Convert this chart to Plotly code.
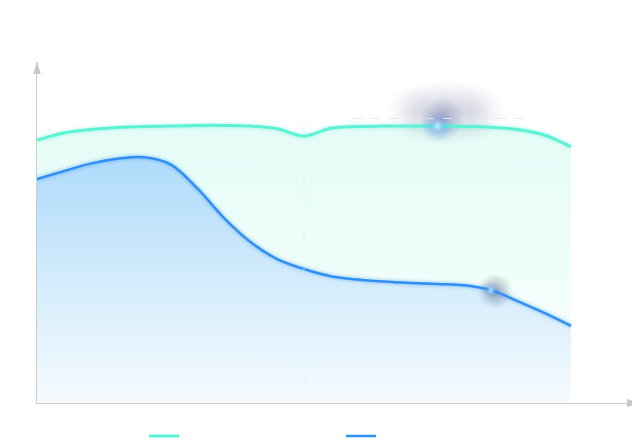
import plotly.graph_objects as go

# ---- data ----
x_vals = list(range(0, 101, 5))
green_y = [77.1, 79.2, 80.2, 80.8, 81.1, 81.2, 81.4, 81.4, 81.2, 80.4, 78.3,
           80.6, 81.1, 81.2, 81.2, 81.2, 81.1, 80.9, 80.2, 78.6, 75.1]
blue_y = [65.7, 68.0, 70.2, 71.6, 72.1, 70.0, 63.0, 54.3, 47.2, 42.2, 39.3,
          37.2, 36.2, 35.6, 35.2, 34.9, 34.5, 33.1, 29.9, 26.4, 22.6]

green_glow_idx = 15   # highlighted point on green series
blue_glow_idx = 17    # highlighted point on blue series
dip_idx = 10          # category with the vertical pointer line

GREEN = "#5cf2d6"
BLUE = "#2f8ff3"

OFF = 8  # page body margin offset
W, H = 640 - OFF, 443 - OFF
ML, MR, MT, MB = 37 - OFF, 1, 62 - OFF, 40
PW, PH = W - ML - MR, H - MT - MB
X_MAX = PW / 5.34
Y_MAX = 100


def px(xp):  # reference pixel -> paper x
    return (xp - OFF - ML) / PW


def py(yp):  # reference pixel -> paper y
    return (H - MB - (yp - OFF)) / PH


fig = go.Figure()

# green area
fig.add_trace(go.Scatter(
    x=x_vals, y=green_y, mode="lines", fill="tozeroy",
    line=dict(color="rgba(0,0,0,0)", width=0, shape="spline", smoothing=1),
    fillgradient=dict(type="vertical",
                      colorscale=[[0, "rgba(250,255,254,1)"], [1, "rgba(228,252,247,1)"]]),
    showlegend=False, hoverinfo="skip"))

# blue area
fig.add_trace(go.Scatter(
    x=x_vals, y=blue_y, mode="lines", fill="tozeroy",
    line=dict(color="rgba(0,0,0,0)", width=0, shape="spline", smoothing=1),
    fillgradient=dict(type="vertical",
                      colorscale=[[0, "rgba(246,251,255,1)"], [0.5, "rgba(211,236,252,1)"],
                                  [1, "rgba(174,218,250,1)"]]),
    showlegend=False, hoverinfo="skip"))

# dark glow blobs (behind lines)
gx, gy = x_vals[green_glow_idx], green_y[green_glow_idx]
bx, by = x_vals[blue_glow_idx], blue_y[blue_glow_idx]
blob_dx = [-6, -3, 0, 3, 6]
fig.add_trace(go.Scatter(
    x=[gx + 1.5 + d for d in blob_dx], y=[gy + 4] * len(blob_dx), mode="markers",
    marker=dict(size=[56, 64, 70, 64, 56], color="rgba(50,60,120,0)", line=dict(width=0),
                gradient=dict(type="radial", color="rgba(45,55,115,0.16)")),
    showlegend=False, hoverinfo="skip"))
fig.add_trace(go.Scatter(
    x=[gx + 1], y=[gy + 2], mode="markers",
    marker=dict(size=44, color="rgba(50,60,120,0)", line=dict(width=0),
                gradient=dict(type="radial", color="rgba(45,55,115,0.3)")),
    showlegend=False, hoverinfo="skip"))
fig.add_trace(go.Scatter(
    x=[bx + 0.8], y=[by - 0.3], mode="markers",
    marker=dict(size=36, color="rgba(40,50,80,0)", line=dict(width=0),
                gradient=dict(type="radial", color="rgba(40,50,80,0.42)")),
    showlegend=False, hoverinfo="skip"))

# glow halos
for ys, rgb in [(green_y, "92,242,214"), (blue_y, "47,143,243")]:
    for w, a in [(9, 0.07), (5.5, 0.14)]:
        fig.add_trace(go.Scatter(
            x=x_vals, y=ys, mode="lines",
            line=dict(color=f"rgba({rgb},{a})", width=w, shape="spline", smoothing=1),
            showlegend=False, hoverinfo="skip"))

# main lines
fig.add_trace(go.Scatter(x=x_vals, y=green_y, mode="lines", name=" ",
                         line=dict(color=GREEN, width=3, shape="spline", smoothing=1),
                         hoverinfo="skip"))
fig.add_trace(go.Scatter(x=x_vals, y=blue_y, mode="lines", name=" ",
                         line=dict(color=BLUE, width=2.5, shape="spline", smoothing=1),
                         hoverinfo="skip"))

# blue glow + bright spots
fig.add_trace(go.Scatter(
    x=[gx, bx], y=[gy, by], mode="markers",
    marker=dict(size=[34, 18], color="rgba(60,140,255,0)", line=dict(width=0),
                gradient=dict(type="radial", color="rgba(60,140,255,0.55)")),
    showlegend=False, hoverinfo="skip"))
fig.add_trace(go.Scatter(
    x=[gx, bx], y=[gy, by], mode="markers",
    marker=dict(size=[14, 10], color="rgba(160,230,255,0)", line=dict(width=0),
                gradient=dict(type="radial", color="rgba(255,255,255,1)")),
    showlegend=False, hoverinfo="skip"))

shapes = [
    # vertical pointer line
    dict(type="line", xref="x", yref="paper", x0=x_vals[dip_idx], x1=x_vals[dip_idx],
         y0=0, y1=py(118), line=dict(color="rgba(200,246,240,0.7)", width=1, dash="dash")),
    # horizontal dashed line
    dict(type="line", xref="paper", yref="paper", x0=px(353), x1=px(525), y0=py(118.5), y1=py(118.5),
         line=dict(color="rgba(225,230,240,0.95)", width=1, dash="dash")),
    # axis arrows
    dict(type="path", xref="paper", yref="paper",
         path=f"M {px(33.3)} {py(74)} L {px(37)} {py(61.5)} L {px(40.7)} {py(74)} Z",
         fillcolor="#c8c8c8", line=dict(width=0)),
    dict(type="path", xref="paper", yref="paper",
         path=f"M {px(627)} {py(399)} L {px(639.5)} {py(403)} L {px(627)} {py(407)} Z",
         fillcolor="#c8c8c8", line=dict(width=0)),
]

fig.update_layout(
    width=W, height=H,
    margin=dict(l=ML, r=MR, t=MT, b=MB, pad=0, autoexpand=False),
    paper_bgcolor="white", plot_bgcolor="white",
    shapes=shapes,
    xaxis=dict(range=[0, X_MAX], showgrid=False, zeroline=False, showticklabels=False,
               ticks="", showline=True, linecolor="#cccccc", linewidth=1),
    yaxis=dict(range=[0, Y_MAX], showgrid=False, zeroline=False, showticklabels=False,
               ticks="", showline=True, linecolor="#cccccc", linewidth=1),
    legend=dict(orientation="h", x=px(144), xanchor="left", y=py(436), yanchor="middle",
                entrywidth=152, entrywidthmode="pixels", itemwidth=30,
                font=dict(size=10, color="#666"), bgcolor="rgba(0,0,0,0)"),
)

fig.write_html("out.html")
